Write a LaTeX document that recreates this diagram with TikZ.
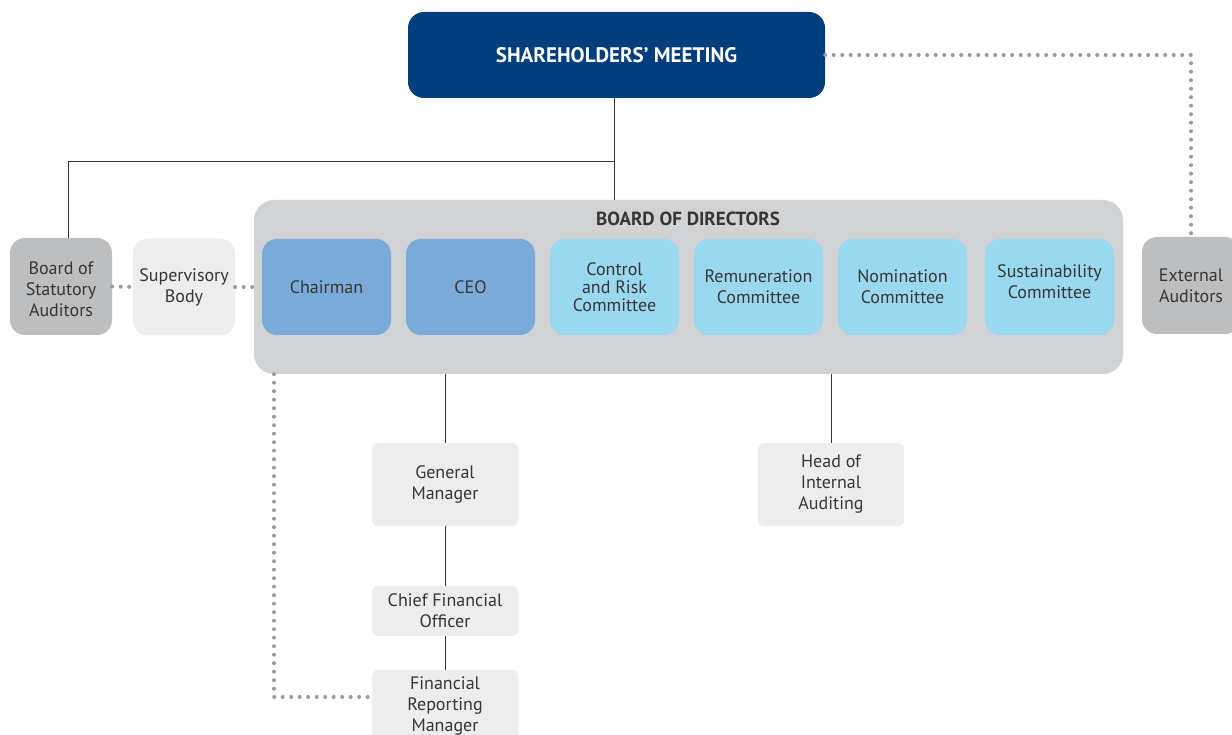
\documentclass[tikz,border=0pt]{standalone}
\usepackage{fontspec}
\setmainfont{PT Sans}
\usetikzlibrary{positioning}
\definecolor{smblue}{HTML}{013E7D}
\definecolor{bodgray}{HTML}{D1D2D4}
\definecolor{midblue}{HTML}{7BAAD9}
\definecolor{cyanbox}{HTML}{9AD8F0}
\definecolor{audgray}{HTML}{BDBEC0}
\definecolor{palegray}{HTML}{EDEDED}
\definecolor{dotgray}{HTML}{9B9B9B}
\definecolor{txtgray}{HTML}{363636}
\begin{document}
\begin{tikzpicture}[x=1pt, y=-1pt,
    box/.style={rectangle, rounded corners=15pt, minimum width=129pt, minimum height=96pt,
        align=center, text=txtgray, inner sep=2pt, font=\fontsize{18}{21}\selectfont},
    flat/.style={rectangle, rounded corners=6pt, fill=palegray, minimum width=146pt,
        align=center, text=txtgray, inner sep=2pt, font=\fontsize{18}{21}\selectfont},
    link/.style={draw=txtgray, line width=0.9pt},
    dots/.style={draw=dotgray, line width=4pt, line cap=round, dash pattern=on 0pt off 8.5pt}]
\useasboundingbox (0,0) rectangle (1232,735);
\node (sm) at (616.5,55)[rectangle, rounded corners=16pt, fill=smblue, minimum width=417pt,
    minimum height=86pt, text=white, font=\fontsize{21}{24}\bfseries]{SHAREHOLDERS’ MEETING};
\node (bod) at (688.5,287)[rectangle, rounded corners=20pt, fill=bodgray,
    minimum width=869pt, minimum height=174pt]{};
\node (bodtitle) at (688,219)[text=txtgray, font=\fontsize{19}{22}\bfseries]{BOARD OF DIRECTORS};
\begin{scope}[every node/.append style={box}]
    \node (chair) at (326.5,287)[fill=midblue]{Chairman};
    \node (ceo) at (470.5,287)[fill=midblue]{CEO};
    \node (crc) at (614.5,287)[fill=cyanbox, font=\fontsize{18}{18}\selectfont]{Control\\and Risk\\Committee};
    \node (rem) at (758.5,287)[fill=cyanbox]{Remuneration\\Committee};
    \node (nom) at (902.5,287)[fill=cyanbox]{Nomination\\Committee};
    \node (sus) at (1049.5,287)[fill=cyanbox]{};
    \node (bsa) at (61,286.5)[fill=audgray, minimum width=102pt, minimum height=97pt]{};
    \node (sb) at (184,287)[fill=palegray, minimum width=102pt, minimum height=97pt]{Supervisory\\Body};
    \node (ext) at (1191,285.5)[fill=audgray, minimum width=98pt, minimum height=97pt]{External\\Auditors};
\end{scope}
\node (bsatext) at (61,289)[align=center, text=txtgray, font=\fontsize{18}{21}\selectfont]{Board of\\Statutory\\Auditors};
\node (sustext) at (1049.5,282)[align=center, text=txtgray, font=\fontsize{18}{21}\selectfont]{Sustainability\\Committee};
\node (gm) at (445,484.5)[flat, minimum height=83pt]{General\\Manager};
\node (cfo) at (445,611)[flat, minimum height=50pt]{Chief Financial\\Officer};
\node (frm) at (445,706)[flat, minimum height=72pt]{Financial\\Reporting\\Manager};
\node (hia) at (831,484.5)[flat, minimum height=83pt]{Head of\\Internal\\Auditing};
\coordinate (split) at (614.5,161);
\coordinate (fold) at (274,697);
\draw[link] (split |- sm.south) -- (split |- bod.north);
\draw[link] (split) -| ([xshift=7pt]bsa.north);
\draw[link] (gm.north |- bod.south) -- (gm.north);
\draw[link] (gm) -- (cfo);
\draw[link] (cfo) -- (frm);
\draw[link] (hia.north |- bod.south) -- (hia.north);
\draw[dots] (bsa.east) -- (sb.west);
\draw[dots] (sb.east) -- (sb.east -| bod.west);
\draw[dots] (sm.east) -| (ext.north);
\draw[dots] (fold |- bod.south) -- (fold) -- (fold -| frm.west);
\end{tikzpicture}
\end{document}
